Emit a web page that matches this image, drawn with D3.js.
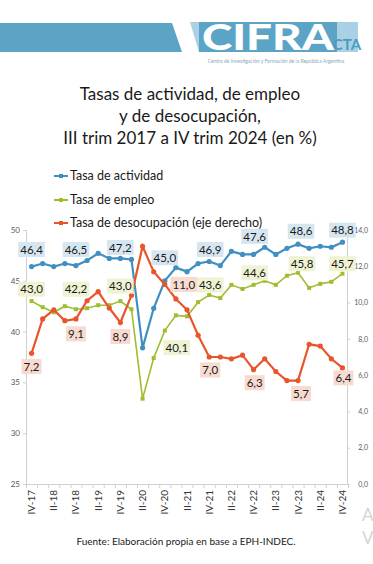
<!DOCTYPE html>
<html>
<head>
<meta charset="utf-8">
<script src="https://cdn.jsdelivr.net/npm/d3@7"></script>
<style>
  body { margin: 0; background: #fff; }
  text { font-family: Lato, "Open Sans", sans-serif; }
</style>
</head>
<body>
<div id="chart"></div>
<script>
// quarters shown on the x axis (IV-17 .. IV-24)
var quarters = ["IV-17","I-18","II-18","III-18","IV-18","I-19","II-19","III-19","IV-19",
  "I-20","II-20","III-20","IV-20","I-21","II-21","III-21","IV-21","I-22","II-22","III-22","IV-22",
  "I-23","II-23","III-23","IV-23","I-24","II-24","III-24","IV-24"];

// rates (%)
var actividad = [46.4,46.7,46.4,46.7,46.5,47.0,47.7,47.2,47.2,47.1,38.4,42.3,45.0,46.3,45.9,
  46.7,46.9,46.5,47.9,47.6,47.6,48.3,47.6,48.2,48.6,48.2,48.4,48.3,48.8];
var empleo = [43.0,42.4,41.9,42.5,42.2,42.3,42.6,42.6,43.0,42.2,33.4,37.4,40.1,41.6,41.5,
  42.9,43.6,43.3,44.6,44.2,44.6,45.0,44.6,45.5,45.8,44.3,44.7,44.9,45.7];
var desocupacion = [7.2,9.1,9.6,9.0,9.1,10.1,10.6,9.7,8.9,10.4,13.1,11.7,11.0,10.2,9.6,
  8.2,7.0,7.0,6.9,7.1,6.3,6.9,6.2,5.7,5.7,7.7,7.6,6.9,6.4];

var leftTicks = [25,30,35,40,45,50];
var rightTicks = [0,2,4,6,8,10,12,14];
var labelled = [0,4,8,12,16,20,24,28];   // quarters that carry a value label

var width = 373, height = 564;
var svg = d3.select("#chart").append("svg")
    .attr("width", width)
    .attr("height", height);

svg.append("rect").attr("width", width).attr("height", height).attr("fill", "#fff");

// ---- header band + logo
svg.append("polygon")
    .attr("points", "0,23 172,23 182,52 0,52")
    .attr("fill", "#5ba4c6");
svg.append("polygon")
    .attr("points", "190,22 358,22 358,52 199,52")
    .attr("fill", "#a9d0e3");
svg.append("rect").attr("x", 199).attr("y", 22).attr("width", 138).attr("height", 30).attr("fill", "#5ba4c6");
svg.append("text")
    .attr("x", 202).attr("y", 50)
    .attr("textLength", 132).attr("lengthAdjust", "spacingAndGlyphs")
    .style("font-size", "36px").style("font-weight", "900")
    .attr("fill", "#fff")
    .text("CIFRA");
svg.append("text")
    .attr("x", 347).attr("y", 50)
    .attr("text-anchor", "middle")
    .style("font-size", "15px").style("font-weight", "700")
    .attr("fill", "#4e9bc2")
    .text("CTA");
svg.append("text")
    .attr("x", 276).attr("y", 63)
    .attr("text-anchor", "middle")
    .style("font-size", "5px")
    .attr("fill", "#8aa9b8")
    .text("Centro de Investigación y Formación de la República Argentina");

// ---- title
var title = ["Tasas de actividad, de empleo", "y de desocupación,", "III trim 2017 a IV trim 2024 (en %)"];
svg.selectAll(".title").data(title).enter().append("text")
    .attr("class", "title")
    .attr("x", 190)
    .attr("y", function (d, i) { return 100 + i * 22; })
    .attr("text-anchor", "middle")
    .style("font-size", "17px")
    .attr("fill", "#1a1a1a")
    .text(function (d) { return d; });

// ---- scales
var x = d3.scaleBand().domain(quarters).range([26, 348]);
function cx(i) { return x(quarters[i]) + x.bandwidth() / 2; }
var yL = d3.scaleLinear().domain([25, 50]).range([484, 230]);
var yR = d3.scaleLinear().domain([0, 14]).range([484, 230]);
var comma = function (d) { return d3.format(".1f")(d).replace(".", ","); };

// left axis
var gl = svg.append("g").attr("transform", "translate(26,0)")
    .call(d3.axisLeft(yL).tickValues(leftTicks).tickSize(3).tickPadding(3));
// right axis (labels right-aligned like Excel)
var gr = svg.append("g").attr("transform", "translate(347,0)")
    .call(d3.axisRight(yR).tickValues(rightTicks).tickSize(3).tickFormat(comma));
gr.selectAll("text").attr("x", 21).style("text-anchor", "end");
// bottom axis: labels every other quarter, ticks on category boundaries
var gb = svg.append("g").attr("transform", "translate(0,484)")
    .call(d3.axisBottom(x).tickValues(quarters.filter(function (d, i) { return i % 2 === 0; })).tickSize(0));
gb.selectAll("text")
    .attr("y", 0).attr("x", -6).attr("dy", "0.35em")
    .attr("transform", "rotate(-90)")
    .style("text-anchor", "end")
    .style("font-size", "10px")
    .attr("fill", "#333");
var gt = svg.append("g").attr("transform", "translate(0,484)")
    .call(d3.axisBottom(d3.scaleLinear().domain([0, quarters.length]).range([26, 348]))
      .tickValues(d3.range(quarters.length + 1)).tickSize(4).tickFormat(""));
gt.select(".domain").remove();

[gl, gr, gb, gt].forEach(function (g) {
  g.select(".domain").attr("stroke", "#d0d0d0");
  g.selectAll(".tick line").attr("stroke", "#d0d0d0");
});
gl.selectAll("text").style("font-size", "8px").attr("fill", "#595959");
gr.selectAll("text").style("font-size", "7px").attr("fill", "#595959");

// ---- series
var series = [
  { name: "Tasa de actividad", values: actividad, y: yL, color: "#3f8fc2", fill: "#d6e6f1", marker: "circle",
    nudge: [[0,-17],[0,-16],[0,-11],[0,-23],[1,-12],[1,-18],[3,-13],[0,-12]] },
  { name: "Tasa de empleo", values: empleo, y: yL, color: "#9fbd30", fill: "#eff3d3", marker: "square",
    nudge: [[0,-12],[0,-20],[0,-15],[12,17],[1,-10],[1,-12],[4,-9],[0,-10]] },
  { name: "Tasa de desocupación (eje derecho)", values: desocupacion, y: yR, color: "#e8552b", fill: "#f8dad1", marker: "circle",
    nudge: [[0,13],[0,15],[0,14],[19,0],[1,13],[1,13],[3,13],[1,10]] }
];

// draw green first so blue and red sit on top like the original
[series[1], series[0], series[2]].forEach(function (s) {
  var line = d3.line()
      .x(function (d, i) { return cx(i); })
      .y(function (d) { return s.y(d); });
  svg.append("path")
      .datum(s.values)
      .attr("fill", "none")
      .attr("stroke", s.color)
      .attr("stroke-width", s.marker === "square" ? 1.6 : 2.2)
      .attr("d", line);
  if (s.marker === "circle") {
    svg.selectAll(null).data(s.values).enter().append("circle")
        .attr("cx", function (d, i) { return cx(i); })
        .attr("cy", function (d) { return s.y(d); })
        .attr("r", 2.6)
        .attr("fill", s.color);
  } else {
    svg.selectAll(null).data(s.values).enter().append("rect")
        .attr("x", function (d, i) { return cx(i) - 2; })
        .attr("y", function (d) { return s.y(d) - 2; })
        .attr("width", 4).attr("height", 4)
        .attr("fill", s.color);
  }
});

// ---- value labels
series.forEach(function (s) {
  labelled.forEach(function (idx, k) {
    var px = cx(idx) + s.nudge[k][0];
    var py = s.y(s.values[idx]) + s.nudge[k][1];
    var g = svg.append("g").attr("transform", "translate(" + px + "," + py + ")");
    var t = g.append("text")
        .attr("text-anchor", "middle")
        .attr("dy", "0.36em")
        .style("font-size", "11.5px")
        .attr("fill", "#1a1a1a")
        .text(comma(s.values[idx]));
    var w = t.node().getComputedTextLength() + 4;
    g.insert("rect", "text")
        .attr("x", -w / 2).attr("y", -7.5)
        .attr("width", w).attr("height", 15)
        .attr("fill", s.fill);
  });
});

// ---- legend
var legend = svg.selectAll(".legend").data(series).enter().append("g")
    .attr("class", "legend")
    .attr("transform", function (d, i) { return "translate(54," + [176, 200, 223][i] + ")"; });
legend.append("line")
    .attr("x1", 0).attr("x2", 14)
    .attr("stroke", function (d) { return d.color; })
    .attr("stroke-width", 2);
legend.append("rect")
    .attr("x", 5).attr("y", -2).attr("width", 4).attr("height", 4)
    .attr("fill", function (d) { return d.color; });
legend.append("text")
    .attr("x", 16).attr("dy", "0.35em")
    .style("font-size", "12.5px")
    .attr("fill", "#1a1a1a")
    .text(function (d) { return d.name; });

// ---- source
svg.append("text")
    .attr("x", 186).attr("y", 545)
    .attr("text-anchor", "middle")
    .style("font-size", "10px")
    .attr("fill", "#1a1a1a")
    .text("Fuente: Elaboración propia en base a EPH-INDEC.");

// faint watermark letters at the right edge (cut off in the original too)
svg.append("text").attr("x", 362).attr("y", 521).style("font-size", "17px").attr("fill", "#d4d4d4").text("A");
svg.append("text").attr("x", 362).attr("y", 544).style("font-size", "17px").attr("fill", "#d4d4d4").text("V");
</script>
</body>
</html>
